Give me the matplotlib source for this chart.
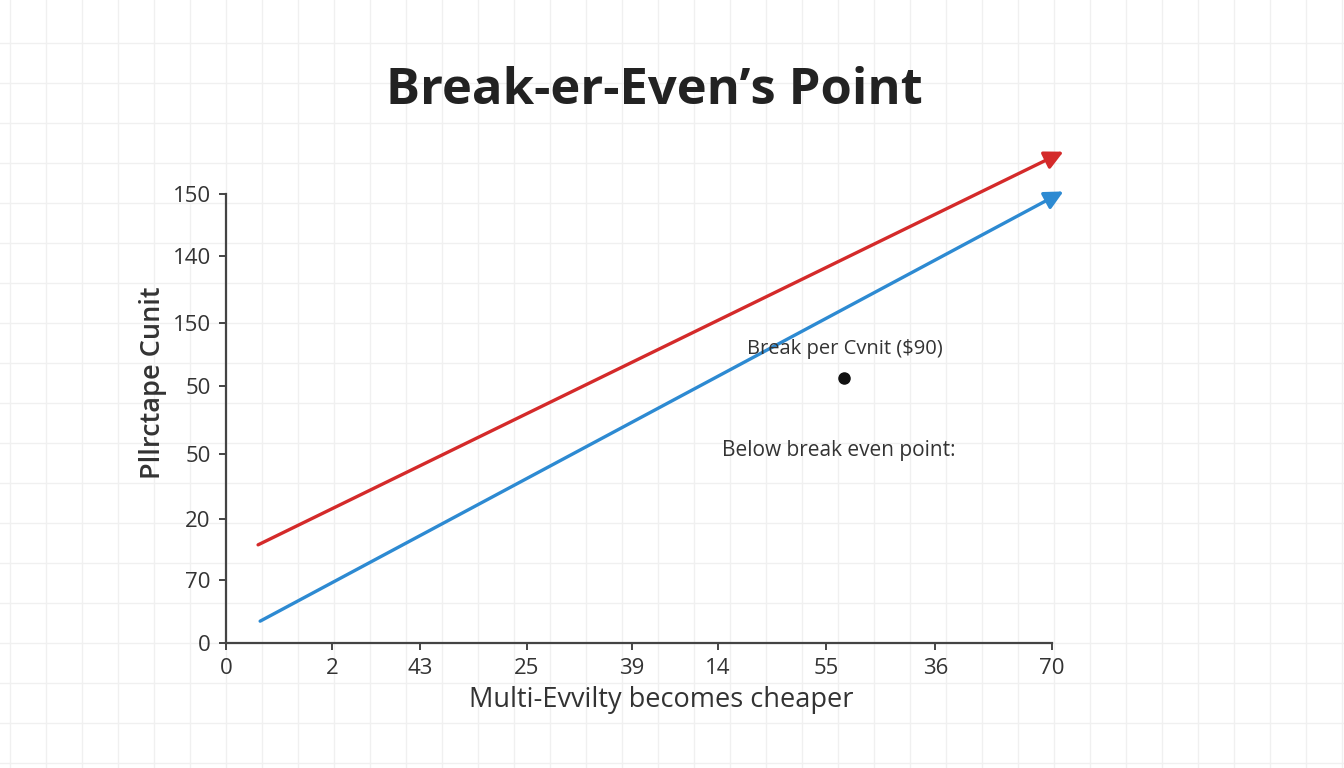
import numpy as np
import matplotlib
matplotlib.use("Agg")
from matplotlib import pyplot as plt

plt.rcParams['font.family'] = ['Open Sans', 'DejaVu Sans']

# tick positions / labels (labels as printed in the picture)
x_ticks = [0, 1.03, 1.88, 2.91, 3.93, 4.76, 5.81, 6.87, 8.0]
x_labels = ["0", "2", "43", "25", "39", "14", "55", "36", "70"]
y_ticks = [0, 0.98, 1.93, 2.94, 4.0, 4.99, 6.04, 7.0]
y_labels = ["0", "70", "20", "50", "50", "150", "140", "150"]

# the two cost lines (start, end)
red_x = [0.31, 8.11]
red_y = [1.53, 7.66]
blue_x = [0.33, 8.11]
blue_y = [0.34, 7.04]

# break-even dot
dot_x = [5.98]
dot_y = [4.13]

RED = "#d42a2a"
BLUE = "#2d8ad2"
AXC = "#444444"

fig = plt.figure(figsize=(13.44, 7.68), dpi=100)
fig.patch.set_facecolor("white")

# faint background grid over the whole picture
bg = fig.add_axes([0, 0, 1, 1])
bg.set_xlim(0, 1344)
bg.set_ylim(768, 0)
for gx in np.arange(10, 1344, 36):
    bg.axvline(gx, color="#f0f0f0", lw=1.0, zorder=0)
for gy in np.arange(43, 768, 40):
    bg.axhline(gy, color="#f0f0f0", lw=1.0, zorder=0)
bg.axis("off")

ax = fig.add_axes([0.1682, 0.1628, 0.6146, 0.5846])
ax.patch.set_alpha(0)
ax.set_xlim(0, 8)
ax.set_ylim(0, 7.0)

for s in ["top", "right"]:
    ax.spines[s].set_visible(False)
for s in ["left", "bottom"]:
    ax.spines[s].set_color(AXC)
    ax.spines[s].set_linewidth(1.6)

ax.set_xticks(x_ticks)
ax.set_xticklabels(x_labels)
ax.set_yticks(y_ticks)
ax.set_yticklabels(y_labels)
ax.tick_params(axis="both", colors=AXC, length=5, width=1.4, labelsize=16,
               labelcolor="#333333", pad=6)

for xs, ys, c in [(red_x, red_y, RED), (blue_x, blue_y, BLUE)]:
    ax.annotate("", xy=(xs[1], ys[1]), xytext=(xs[0], ys[0]),
                arrowprops=dict(arrowstyle="-|>", lw=2.4, color=c,
                                mutation_scale=28, shrinkA=0, shrinkB=0),
                annotation_clip=False)

ax.plot(dot_x, dot_y, "o", color="#111111", ms=8, clip_on=False)

ax.text(5.05, 4.58, "Break per Cvnit (\\$90)", fontsize=14.5, color="#333333",
        va="center", ha="left")
ax.text(4.8, 3.0, "Below break even point:", fontsize=15, color="#333333",
        va="center", ha="left")

ax.set_xlabel("Multi-Evvilty becomes cheaper", fontsize=19.5, color="#333333")
ax.xaxis.set_label_coords(0.527, -0.095)
ax.set_ylabel("Pllrctape Cunit", fontsize=19.5, color="#333333",
              fontweight="semibold")
ax.yaxis.set_label_coords(-0.071, 0.58)

fig.text(0.487, 0.882, "Break-er-Even\u2019s Point", fontsize=36.5,
         fontweight="bold", color="#222222", ha="center", va="center")

fig.savefig("out.png", dpi=100)
